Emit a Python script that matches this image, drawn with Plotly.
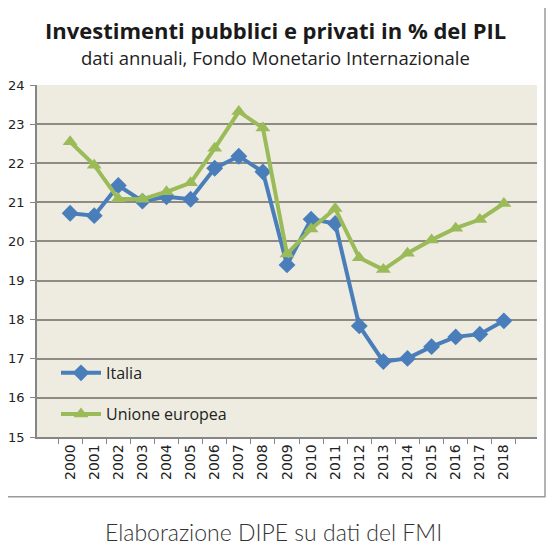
import plotly.graph_objects as go

# anni e dati (% del PIL)
anni = [str(a) for a in range(2000, 2019)]
italia = [20.72, 20.66, 21.43, 21.03, 21.14, 21.08, 21.87, 22.18, 21.78, 19.40,
          20.57, 20.46, 17.84, 16.93, 17.01, 17.31, 17.56, 17.63, 17.97]
ue = [22.55, 21.95, 21.09, 21.08, 21.27, 21.50, 22.38, 23.32, 22.90, 19.68,
      20.32, 20.84, 19.58, 19.28, 19.70, 20.04, 20.34, 20.56, 20.97]

blu = '#4a7ebb'
verde = '#9bbb59'

fig = go.Figure()
fig.add_trace(go.Scatter(x=anni, y=italia, name='Italia', mode='lines+markers',
                         line=dict(color=blu, width=4),
                         marker=dict(symbol='diamond', size=13, color=blu),
                         showlegend=True, legend='legend'))
fig.add_trace(go.Scatter(x=anni, y=ue, name='Unione europea', mode='lines+markers',
                         line=dict(color=verde, width=4),
                         marker=dict(symbol='triangle-up', size=13, color=verde),
                         showlegend=True, legend='legend2'))

# cornice grigia attorno al grafico (il bordo sinistro cade fuori dalla figura)
fig.add_shape(type='rect', xref='paper', yref='paper',
              x0=-0.07, x1=1.016, y0=-0.170, y1=1.224,
              line=dict(color='#9a9a9a', width=1.5), layer='below')

# titolo, sottotitolo e fonte
fig.add_annotation(text='<b>Investimenti pubblici e privati in % del PIL</b>',
                   xref='paper', yref='paper', x=0.476, y=1.156, yanchor='middle',
                   showarrow=False, font=dict(size=22, color='#1a1a1a', family='Open Sans'))
fig.add_annotation(text='dati annuali, Fondo Monetario Internazionale',
                   xref='paper', yref='paper', x=0.476, y=1.077, yanchor='middle',
                   showarrow=False, font=dict(size=18.5, color='#222', family='Open Sans'))
fig.add_annotation(text='Elaborazione DIPE su dati del FMI',
                   xref='paper', yref='paper', x=0.472, y=-0.27, yanchor='middle',
                   showarrow=False, font=dict(size=23, color='#333', family='Lato', weight=300))

fig.update_layout(
    width=538, height=538,
    margin=dict(l=29, r=9, t=77, b=109),
    paper_bgcolor='white',
    plot_bgcolor='#EEECE1',
    font=dict(family='Open Sans', color='#222'),
    showlegend=True,
    legend=dict(x=0.038, y=0.182, xanchor='left', yanchor='middle', itemwidth=40,
                bgcolor='rgba(0,0,0,0)', font=dict(size=16, color='#222')),
    legend2=dict(x=0.038, y=0.065, xanchor='left', yanchor='middle', itemwidth=40,
                 bgcolor='rgba(0,0,0,0)', font=dict(size=16, color='#222')),
    xaxis=dict(type='category', tickangle=-90, tickson='boundaries',
               ticks='outside', ticklen=5, tickcolor='#868686',
               showline=True, linecolor='#868686', linewidth=1.5,
               showgrid=False, automargin=False,
               tickfont=dict(size=14, color='#222', family='DejaVu Sans')),
    yaxis=dict(range=[15, 24], dtick=1, ticks='outside', ticklen=5,
               tickcolor='#868686', showline=True, linecolor='#868686',
               linewidth=1.5, gridcolor='#8e8b84', gridwidth=1.5,
               zeroline=False, automargin=False,
               tickfont=dict(size=13, color='#222', family='DejaVu Sans'),
               ticklabelstandoff=3),
)

fig.write_html('out.html')
